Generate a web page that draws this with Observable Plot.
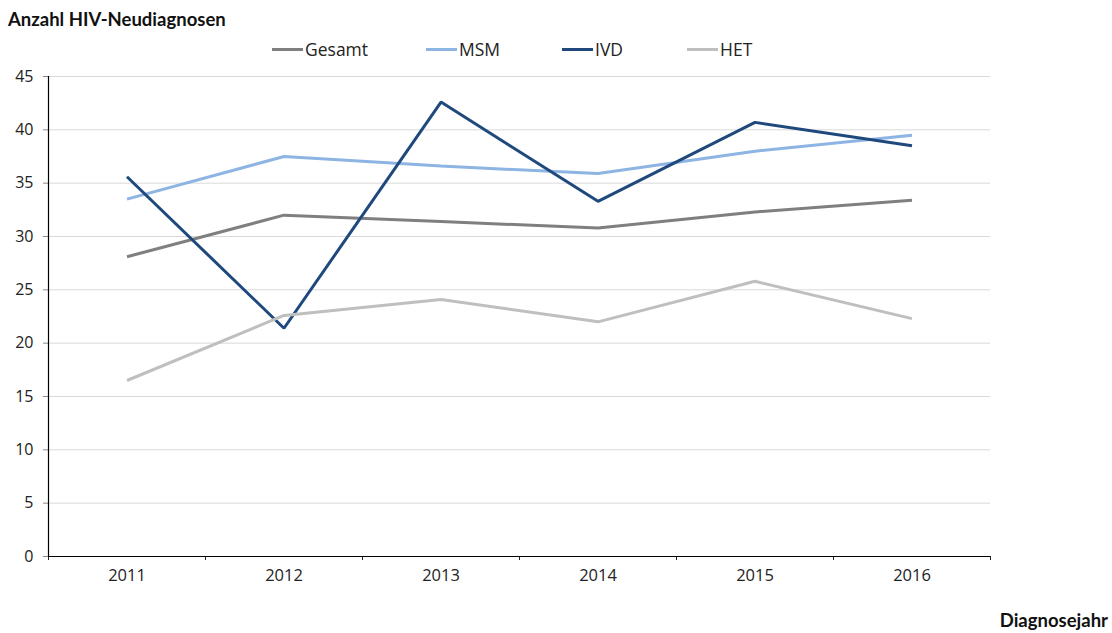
<!DOCTYPE html>
<html>
<head>
<meta charset="utf-8">
<script src="https://cdn.jsdelivr.net/npm/d3@7"></script>
<script src="https://cdn.jsdelivr.net/npm/@observablehq/plot@0.6"></script>
<style>
  html, body { margin: 0; padding: 0; background: #fff; }
  #wrap { position: relative; width: 1112px; height: 633px; overflow: hidden; }
  #title { position: absolute; left: 8px; top: 8px; font: bold 18.5px Lato, "Open Sans", sans-serif; color: #111; white-space: nowrap; }
  #xlabel { position: absolute; right: 4px; top: 609px; font: bold 18.5px Lato, "Open Sans", sans-serif; color: #111; white-space: nowrap; }
  #legend { position: absolute; left: 0; top: 38px; height: 22px; width: 1112px; }
  .lg { position: absolute; top: 0; display: flex; align-items: center; font: 17.5px "Open Sans", sans-serif; color: #222; white-space: nowrap; height: 22px; }
  .sw { display: inline-block; width: 31px; height: 3px; margin-right: 2px; }
  #chart { position: absolute; left: 0; top: 0; }
</style>
</head>
<body>
<div id="wrap">
  <div id="chart"></div>
  <div id="title">Anzahl HIV-Neudiagnosen</div>
  <div id="legend"></div>
  <div id="xlabel">Diagnosejahr</div>
</div>
<script>
const years = [2011, 2012, 2013, 2014, 2015, 2016];
const seriesNames = ["Gesamt", "MSM", "IVD", "HET"];
const seriesColors = ["#7f7f7f", "#8db4e2", "#1f497d", "#bfbfbf"];
const gesamt = [28.1, 32.0, 31.4, 30.8, 32.3, 33.4];
const msm    = [33.5, 37.5, 36.6, 35.9, 38.0, 39.5];
const ivd    = [35.6, 21.4, 42.6, 33.3, 40.7, 38.5];
const het    = [16.5, 22.6, 24.1, 22.0, 25.8, 22.3];
const yTicks = [0, 5, 10, 15, 20, 25, 30, 35, 40, 45];
const legendX = [272, 426, 562, 687];

const seriesValues = [gesamt, msm, ivd, het];
const data = [];
seriesNames.forEach((s, i) => {
  years.forEach((yr, j) => data.push({series: s, year: yr, value: seriesValues[i][j]}));
});
const boundaries = years.map(y => y - 0.5).concat([years[years.length - 1] + 0.5]);

const chart = Plot.plot({
  width: 1112,
  height: 633,
  marginLeft: 48,
  marginRight: 122,
  marginTop: 76,
  marginBottom: 77,
  style: { fontFamily: "'Open Sans', sans-serif", fontSize: "16px", color: "#222", background: "transparent", overflow: "visible" },
  x: { type: "linear", domain: [boundaries[0], boundaries[boundaries.length - 1]] },
  y: { domain: [0, 45] },
  color: { domain: seriesNames, range: seriesColors },
  marks: [
    Plot.gridY(yTicks, { stroke: "#d9d9d9", strokeOpacity: 1, strokeWidth: 1 }),
    Plot.axisY(yTicks, { tickSize: 5, tickPadding: 10, stroke: "#888", label: null, fontSize: 16 }),
    Plot.axisX(years, { tickSize: 0, tickPadding: 13, tickFormat: d => String(d), label: null, fontSize: 16.5 }),
    Plot.axisX(boundaries, { tickSize: 4, tickFormat: () => "", label: null, stroke: "#222" }),
    Plot.lineY(data, { x: "year", y: "value", z: "series", stroke: "series", strokeWidth: 3, strokeLinejoin: "miter", strokeLinecap: "butt" }),
    Plot.ruleY([0], { stroke: "#000", strokeWidth: 1.2 }),
    Plot.ruleX([boundaries[0]], { stroke: "#000", strokeWidth: 1.2 })
  ]
});
document.getElementById("chart").appendChild(chart);

const legend = document.getElementById("legend");
seriesNames.forEach((s, i) => {
  const d = document.createElement("div");
  d.className = "lg";
  d.style.left = legendX[i] + "px";
  d.innerHTML = `<span class="sw" style="background:${seriesColors[i]}"></span><span>${s}</span>`;
  legend.appendChild(d);
});
</script>
</body>
</html>
